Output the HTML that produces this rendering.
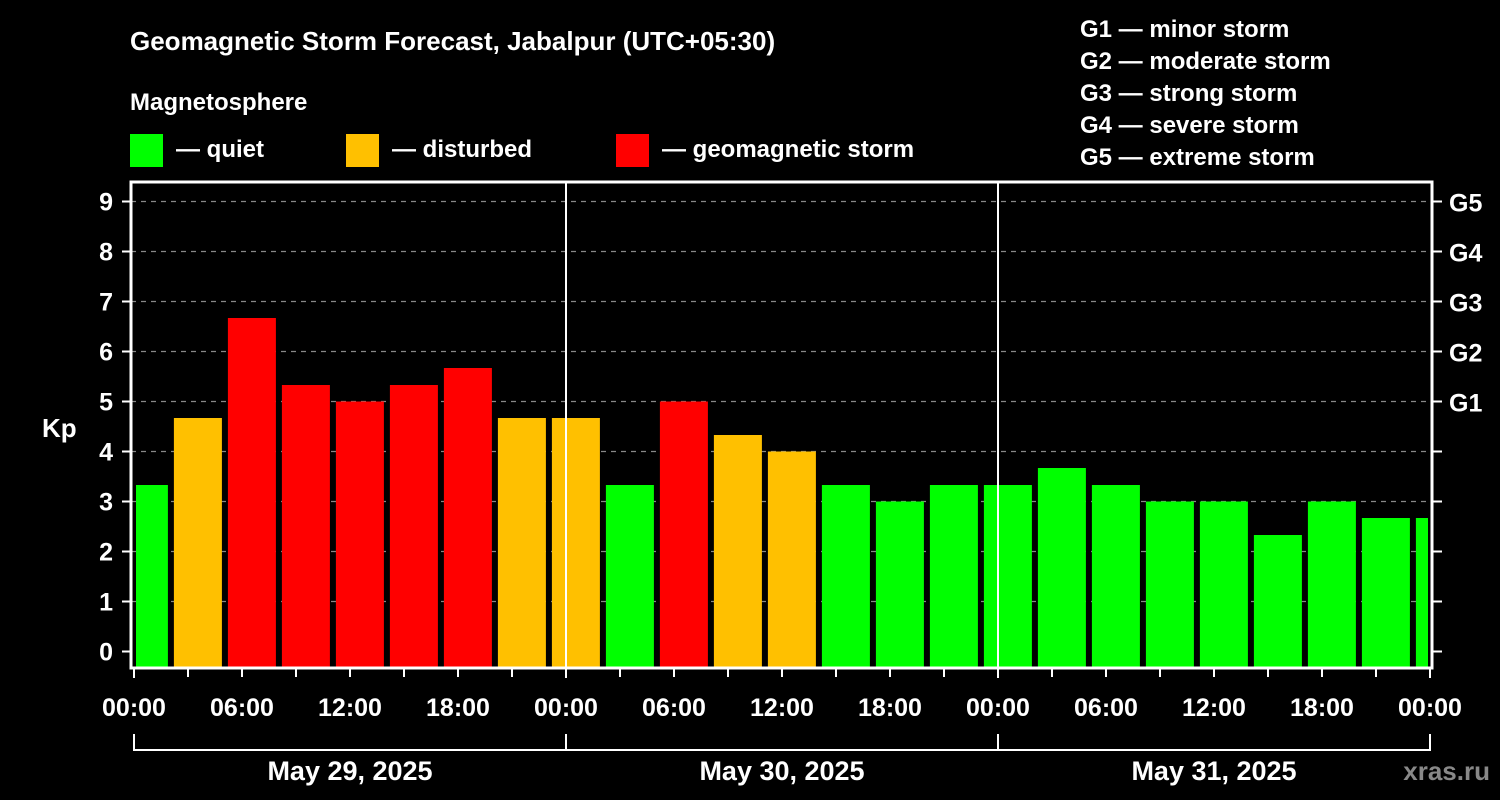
<!DOCTYPE html>
<html><head><meta charset="utf-8"><style>
body{margin:0;background:#000;}
svg{display:block;font-family:"Liberation Sans",sans-serif;font-weight:bold;}
</style></head><body>
<svg id="chart" width="1500" height="800" viewBox="0 0 1500 800">
<rect width="1500" height="800" fill="#000"/>
<text x="130" y="50" fill="#fff" font-size="26">Geomagnetic Storm Forecast, Jabalpur (UTC+05:30)</text>
<text x="130" y="110" fill="#fff" font-size="24">Magnetosphere</text>
<g><rect x="130" y="134" width="33" height="33" fill="#00ff00"/><text x="176" y="157" fill="#fff" font-size="24">— quiet</text></g>
<g><rect x="346" y="134" width="33" height="33" fill="#ffc000"/><text x="392" y="157" fill="#fff" font-size="24">— disturbed</text></g>
<g><rect x="616" y="134" width="33" height="33" fill="#ff0000"/><text x="662" y="157" fill="#fff" font-size="24">— geomagnetic storm</text></g>
<g fill="#fff" font-size="24">
<text x="1080" y="37">G1 — minor storm</text><text x="1080" y="69">G2 — moderate storm</text><text x="1080" y="101">G3 — strong storm</text><text x="1080" y="133">G4 — severe storm</text><text x="1080" y="165">G5 — extreme storm</text>
</g>
<text x="42" y="437" fill="#fff" font-size="26">Kp</text>
<text x="1490" y="780" fill="#888" font-size="26" text-anchor="end">xras.ru</text>
<g id="grid"></g><g id="bars"></g><g id="axes"></g>
</svg>
<script>
const kpValues=[3.33,4.67,6.67,5.33,5.0,5.33,5.67,4.67,4.67,3.33,5.0,4.33,4.0,3.33,3.0,3.33,3.33,3.67,3.33,3.0,3.0,2.33,3.0,2.67,2.67];
const yTicks=[0,1,2,3,4,5,6,7,8,9];
const gLabels=["G1","G2","G3","G4","G5"];
const gLevels=[5,6,7,8,9];
const xTickLabels=["00:00","06:00","12:00","18:00","00:00","06:00","12:00","18:00","00:00","06:00","12:00","18:00","00:00"];
const dayLabels=["May 29, 2025","May 30, 2025","May 31, 2025"];
const NS="http://www.w3.org/2000/svg";
const L=131,R=1432,T=182,B=668,X0=134,HR=18;
const y=v=>651.5-50*v;
const x=h=>X0+h*HR;
function mk(tag,attrs,parent){const e=document.createElementNS(NS,tag);for(const k in attrs)e.setAttribute(k,attrs[k]);document.getElementById(parent).appendChild(e);return e;}
yTicks.forEach(v=>{
 if(v>0){const g=mk('line',{x1:L,x2:R,y1:y(v),y2:y(v),stroke:'#888','stroke-width':1.3,'stroke-dasharray':'5,5'},'grid');
 
 }
 const t=mk('line',{x1:122,x2:L,y1:y(v),y2:y(v),stroke:'#fff','stroke-width':2},'axes');
 
 
 const tx=mk('text',{x:113,y:y(v)+9,fill:'#fff','font-size':25,'text-anchor':'end'},'axes');tx.textContent=v;
 
 
 const rt=mk('line',{x1:R,x2:1442,y1:y(v),y2:y(v),stroke:'#fff','stroke-width':2},'axes');
 
 
});
gLevels.forEach((v,i)=>{const t=mk('text',{x:1449,y:y(v)+10,fill:'#fff','font-size':25},'axes');t.textContent=gLabels[i];
 
 });
kpValues.forEach((v,i)=>{
 const c=v>=5?'#ff0000':(v>=4?'#ffc000':'#00ff00');
 const cx=x(0.55+3*i);let x1=Math.max(cx-24,L+5),x2=Math.min(cx+24,R-4);
 const r=mk('rect',{x:x1,y:y(v),width:x2-x1,height:B-y(v),fill:c},'bars');
 
 
});
[1,2].forEach(d=>{const l=mk('line',{x1:x(24*d),x2:x(24*d),y1:T,y2:B,stroke:'#fff','stroke-width':2},'axes');
 
 });
const f=mk('rect',{x:L,y:T,width:R-L,height:B-T,fill:'none',stroke:'#fff','stroke-width':3},'axes');


for(let h=0;h<=72;h+=3){const t=mk('line',{x1:x(h),x2:x(h),y1:B,y2:h%24==0?B+10:B+9,stroke:'#fff','stroke-width':2},'axes');
 
 }
xTickLabels.forEach((s,i)=>{const t=mk('text',{x:x(6*i),y:716,fill:'#fff','font-size':25,'text-anchor':'middle'},'axes');t.textContent=s;
 
 });
const br=mk('path',{d:`M${x(0)} 734V750H${x(72)}V734M${x(24)} 734V750M${x(48)} 734V750`,stroke:'#fff','stroke-width':2,fill:'none'},'axes');


dayLabels.forEach((s,i)=>{const t=mk('text',{x:x(24*i+12),y:780,fill:'#fff','font-size':27,'text-anchor':'middle'},'axes');t.textContent=s;
 
 });
</script>
</body></html>
